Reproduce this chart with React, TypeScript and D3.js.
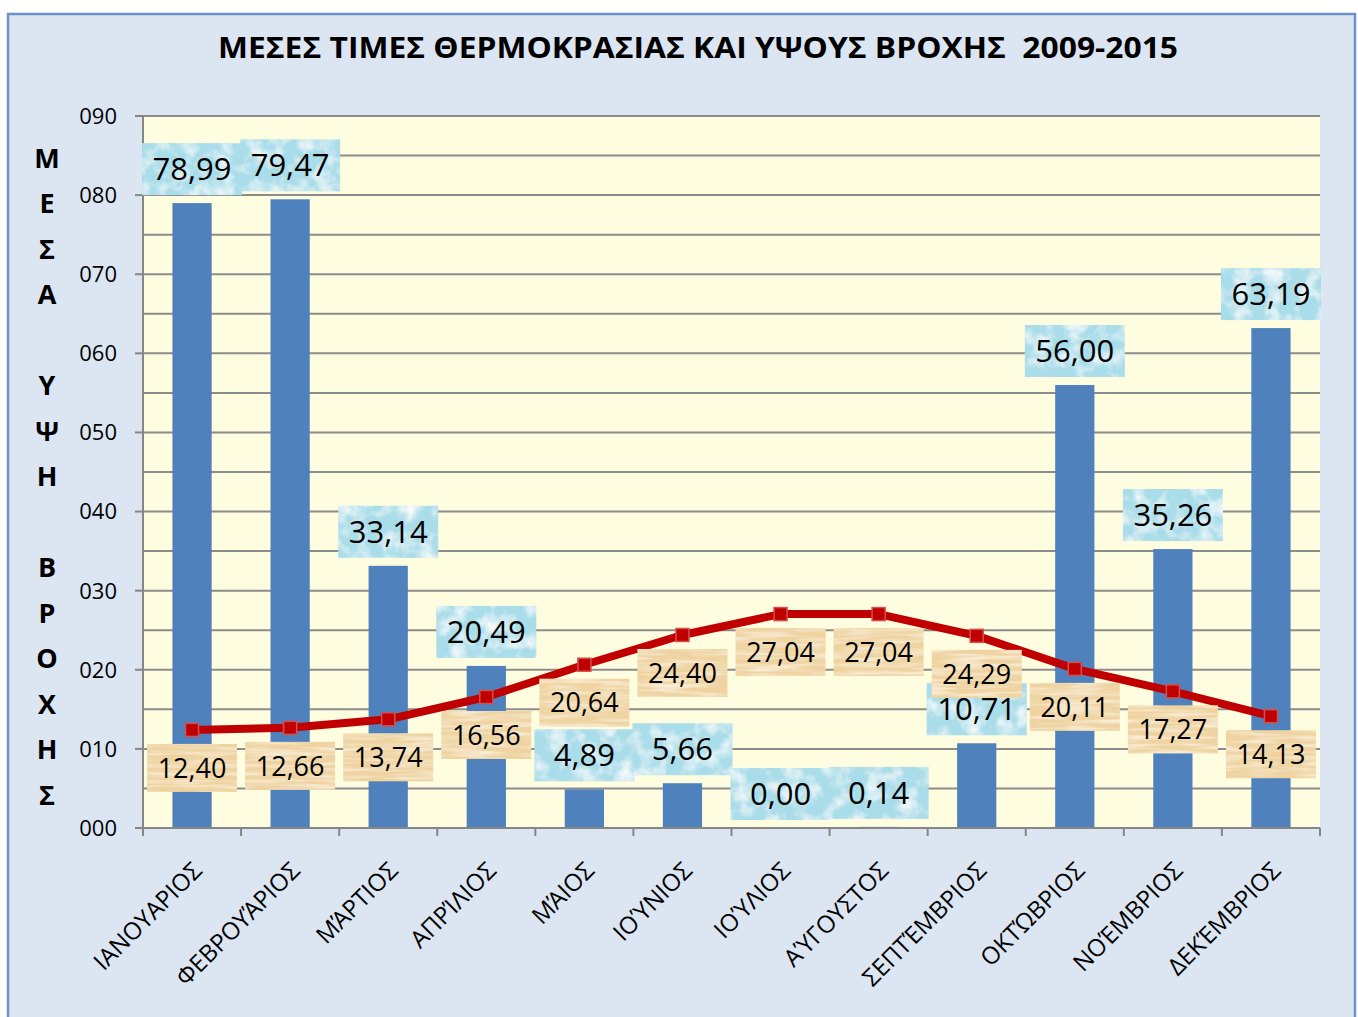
import React from "react";
import * as d3 from "d3";

const months = [
  "ΙΑΝΟΥΑΡΙΟΣ", "ΦΕΒΡΟΥΆΡΙΟΣ", "ΜΆΡΤΙΟΣ", "ΑΠΡΊΛΙΟΣ", "ΜΆΙΟΣ", "ΙΟΎΝΙΟΣ",
  "ΙΟΎΛΙΟΣ", "ΑΎΓΟΥΣΤΟΣ", "ΣΕΠΤΈΜΒΡΙΟΣ", "ΟΚΤΏΒΡΙΟΣ", "ΝΟΈΜΒΡΙΟΣ", "ΔΕΚΈΜΒΡΙΟΣ",
];
const rain = [78.99, 79.47, 33.14, 20.49, 4.89, 5.66, 0.0, 0.14, 10.71, 56.0, 35.26, 63.19];
const temp = [12.4, 12.66, 13.74, 16.56, 20.64, 24.4, 27.04, 27.04, 24.29, 20.11, 17.27, 14.13];
const yTicks = [0, 10, 20, 30, 40, 50, 60, 70, 80, 90];
const gridValues = d3.range(0, 91, 5);
const title = "ΜΕΣΕΣ ΤΙΜΕΣ ΘΕΡΜΟΚΡΑΣΙΑΣ ΚΑΙ ΥΨΟΥΣ ΒΡΟΧΗΣ  2009-2015";
const yTitle = "ΜΕΣΑ ΥΨΗ ΒΡΟΧΗΣ";

const FONT = "'Open Sans', 'Noto Sans', sans-serif";
const fmt = (v: number) => v.toFixed(2).replace(".", ",");
const fmtTick = (v: number) => d3.format("03d")(v);

export default function App() {
  const W = 1358, H = 1017;
  const left = 143, right = 1320, top = 116, bottom = 828;
  const x = d3.scaleBand<string>().domain(months).range([left, right]).paddingInner(0).paddingOuter(0);
  const y = d3.scaleLinear().domain([0, 90]).range([bottom, top]);
  const bw = x.bandwidth() * 0.4;
  const cx = (m: string) => (x(m) as number) + x.bandwidth() / 2;
  const line = d3.line<number>().x((_, i) => cx(months[i])).y((d) => y(d));

  return (
    <svg width={W} height={H} style={{ position: "absolute", left: 0, top: 0, background: "#fff" }} fontFamily={FONT}>
      <defs>
        <filter id="water" x="0" y="0" width="1" height="1">
          <feTurbulence type="fractalNoise" baseFrequency="0.06" numOctaves="3" seed="3" result="n" />
          <feColorMatrix in="n" type="matrix" values="0 0 0 0 1  0 0 0 0 1  0 0 0 0 1  0 0 0 -1.8 1.05" result="w" />
          <feComposite in="w" in2="SourceGraphic" operator="in" result="wi" />
          <feMerge>
            <feMergeNode in="SourceGraphic" />
            <feMergeNode in="wi" />
          </feMerge>
        </filter>
        <filter id="paper" x="0" y="0" width="1" height="1">
          <feTurbulence type="fractalNoise" baseFrequency="0.02 0.25" numOctaves="2" seed="7" result="n" />
          <feColorMatrix in="n" type="matrix" values="0 0 0 0 1  0 0 0 0 0.95  0 0 0 0 0.85  0 0 0 -1.5 0.9" result="w" />
          <feComposite in="w" in2="SourceGraphic" operator="in" result="wi" />
          <feMerge>
            <feMergeNode in="SourceGraphic" />
            <feMergeNode in="wi" />
          </feMerge>
        </filter>
      </defs>
      <rect x={8} y={14} width={1347} height={1015} fill="#dce6f2" stroke="#6a93cc" strokeWidth={2.5} />
      <text x={698} y={58} textAnchor="middle" fontSize={28} fontWeight="bold" fill="#000" textLength={960} lengthAdjust="spacingAndGlyphs" style={{ whiteSpace: "pre" }}>
        {title}
      </text>
      {yTitle.split("").map((ch, i) => (
        <text key={"yt" + i} x={47} y={158 + i * 45.5} dy="0.36em" textAnchor="middle" fontSize={27} fontWeight="bold" fill="#000">
          {ch}
        </text>
      ))}
      <rect x={left} y={top} width={right - left} height={bottom - top} fill="#fffde0" />
      {gridValues.map((v) => (
        <line key={"g" + v} x1={left} x2={right} y1={y(v)} y2={y(v)} stroke="#8c8c8c" strokeWidth={2} />
      ))}
      {rain.map((v, i) => (
        <rect key={"b" + i} x={cx(months[i]) - bw / 2} y={y(v)} width={bw} height={bottom - y(v)} fill="#4f81bd" />
      ))}
      <line x1={left} x2={left} y1={top} y2={bottom} stroke="#868686" strokeWidth={2} />
      <line x1={left - 8} x2={right} y1={bottom} y2={bottom} stroke="#868686" strokeWidth={2} />
      {yTicks.map((v) => (
        <g key={"yk" + v}>
          <line x1={left - 8} x2={left} y1={y(v)} y2={y(v)} stroke="#868686" strokeWidth={2} />
          <text x={117} y={y(v)} dy="0.36em" textAnchor="end" fontSize={22} fill="#000">
            {fmtTick(v)}
          </text>
        </g>
      ))}
      {d3.range(0, 13).map((i) => {
        const xx = left + i * x.bandwidth();
        return <line key={"xk" + i} x1={xx} x2={xx} y1={bottom} y2={bottom + 8} stroke="#868686" strokeWidth={2} />;
      })}
      {months.map((m) => (
        <text
          key={"xl" + m}
          transform={`translate(${cx(m) - 1},${860}) rotate(-45)`}
          dy="0.72em"
          textAnchor="end"
          fontSize={24}
          fill="#000"
        >
          {m}
        </text>
      ))}
      {rain.map((v, i) => {
        const c = cx(months[i]);
        const bh = 52, bwid = 100;
        const by = y(v) - 8 - bh;
        return (
          <g key={"rl" + i}>
            <rect x={c - bwid / 2} y={by} width={bwid} height={bh} fill="#a9dde9" filter="url(#water)" />
            <text x={c} y={by + bh / 2} dy="0.36em" textAnchor="middle" fontSize={31} fill="#000">
              {fmt(v)}
            </text>
          </g>
        );
      })}
      <path d={line(temp) as string} fill="none" stroke="#c00000" strokeWidth={8} strokeLinejoin="round" />
      {temp.map((v, i) => (
        <rect key={"m" + i} x={cx(months[i]) - 6.5} y={y(v) - 6.5} width={13} height={13} fill="#c00000" stroke="#d2504f" strokeWidth={1.5} />
      ))}
      {temp.map((v, i) => {
        const c = cx(months[i]);
        const bh = 48, bwid = 90;
        const by = y(v) + 14;
        return (
          <g key={"tl" + i}>
            <rect x={c - bwid / 2} y={by} width={bwid} height={bh} fill="#efd4a2" filter="url(#paper)" />
            <text x={c} y={by + bh / 2} dy="0.36em" textAnchor="middle" fontSize={27} fill="#000">
              {fmt(v)}
            </text>
          </g>
        );
      })}
    </svg>
  );
}
